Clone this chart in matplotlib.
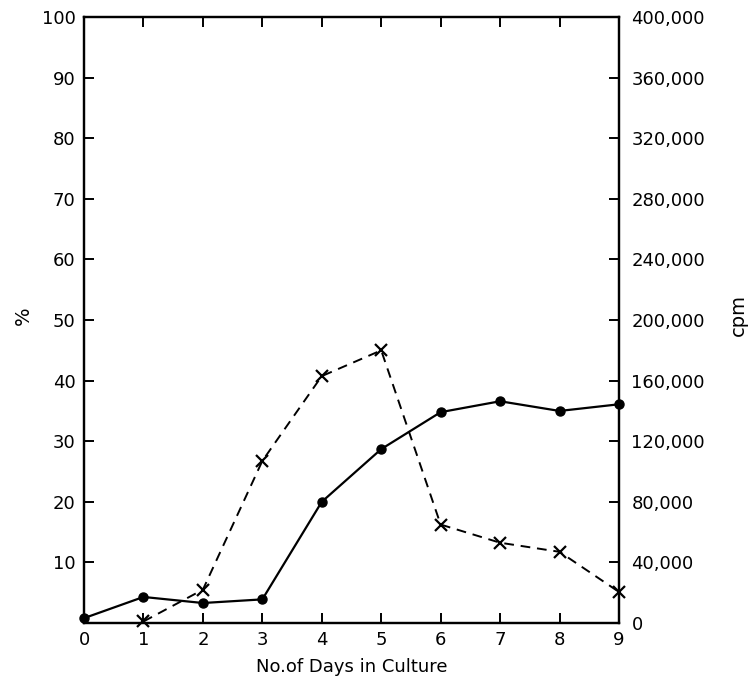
import matplotlib.pyplot as plt

days = [0, 1, 2, 3, 4, 5, 6, 7, 8, 9]
percent = [0.8, 4.3, 3.3, 3.9, 20.0, 28.7, 34.8, 36.6, 35.0, 36.1]

cpm_days = [1, 2, 3, 4, 5, 6, 7, 8, 9]
cpm = [1000, 22000, 107000, 163000, 180000, 65000, 53000, 47000, 20500]

left_ticks = [10, 20, 30, 40, 50, 60, 70, 80, 90, 100]
right_ticks = [0, 40000, 80000, 120000, 160000, 200000, 240000, 280000, 320000, 360000, 400000]

plt.rcParams['font.family'] = ['DejaVu Sans']
fig = plt.figure(figsize=(7.48, 6.85), dpi=100)
ax = fig.add_axes([0.1123, 0.0905, 0.7152, 0.8845])
ax2 = ax.twinx()

ax.plot(days, percent, color='black', lw=1.6, marker='o', ms=6.5, clip_on=False, zorder=3)
ax2.plot(cpm_days, cpm, color='black', lw=1.4, ls=(0, (5, 3.5)), marker='x', ms=8,
         mew=1.6, clip_on=False, zorder=3)

ax.set_xlim(0, 9)
ax.set_ylim(0, 100)
ax2.set_ylim(0, 400000)

ax.set_xticks(days)
ax.set_yticks(left_ticks)
ax2.set_yticks(right_ticks)
ax2.set_yticklabels([f'{v:,}' for v in right_ticks])

for a in (ax, ax2):
    for s in a.spines.values():
        s.set_linewidth(1.6)
ax.tick_params(axis='both', direction='in', length=7, width=1.4, labelsize=13, pad=6,
               top=True)
ax2.tick_params(axis='y', direction='in', length=7, width=1.4, labelsize=13, pad=9)

ax.set_xlabel('No.of Days in Culture', fontsize=13, labelpad=6)
# axis titles placed where the original has them
fig.text(23 / 748, 1 - 316 / 685, '%', fontsize=14, rotation=90, ha='center', va='center')
fig.text(738 / 748, 1 - 315 / 685, 'cpm', fontsize=14, rotation=90, ha='center', va='center')

fig.savefig('out.png', dpi=100)
